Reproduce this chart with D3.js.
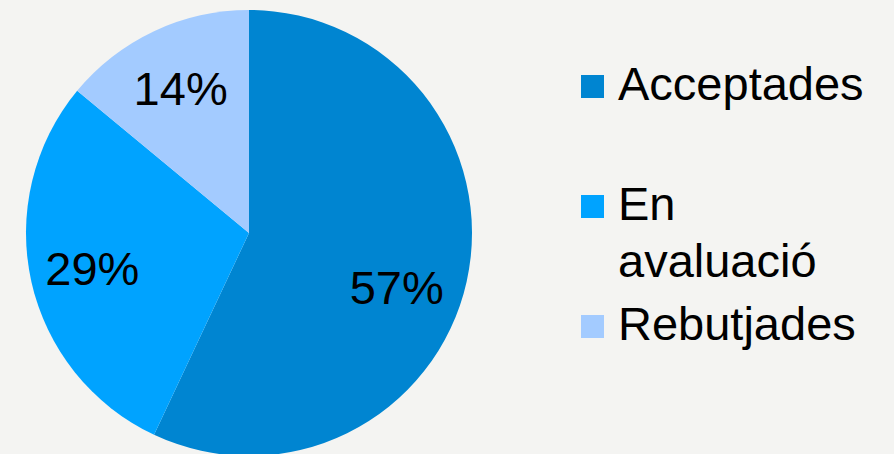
<!DOCTYPE html>
<html>
<head>
<meta charset="utf-8">
<script src="https://cdn.jsdelivr.net/npm/d3@7"></script>
<style>
  html, body { margin: 0; padding: 0; background: #f4f4f2; }
  svg { display: block; font-family: "Liberation Sans", Arial, sans-serif; }
</style>
</head>
<body>
<div id="chart"></div>
<script>
// Data
const categories = ["Acceptades", "En avaluació", "Rebutjades"];
const legendLines = [["Acceptades"], ["En", "avaluació"], ["Rebutjades"]];
const values = [57, 29, 14];
const colors = ["#0085d1", "#00a3ff", "#a3cbff"];

// Set dimensions
const width = 894, height = 454;
const cx = 249, cy = 233, radius = 223;

const svg = d3.select("#chart")
    .append("svg")
    .attr("width", width)
    .attr("height", height);

const data = categories.map((c, i) => ({name: c, value: values[i], color: colors[i], lines: legendLines[i]}));

const pie = d3.pie()
    .value(d => d.value)
    .sort(null);

const arc = d3.arc()
    .innerRadius(0)
    .outerRadius(radius);

const labelArc = d3.arc()
    .innerRadius(radius * 0.72)
    .outerRadius(radius * 0.72);

const g = svg.append("g")
    .attr("transform", `translate(${cx},${cy})`);

const arcs = pie(data);

g.selectAll("path.slice")
    .data(arcs)
    .enter()
    .append("path")
    .attr("class", "slice")
    .attr("d", arc)
    .attr("fill", d => d.data.color);

// Percent labels (small nudge for the big slice, like the original)
const nudge = [[-9, 19], [0, 0], [0, 0]];
const total = d3.sum(values);
g.selectAll("text.pct")
    .data(arcs)
    .enter()
    .append("text")
    .attr("class", "pct")
    .attr("x", (d, i) => labelArc.centroid(d)[0] + nudge[i][0])
    .attr("y", (d, i) => labelArc.centroid(d)[1] + nudge[i][1])
    .attr("dy", "0.36em")
    .attr("text-anchor", "middle")
    .style("font-size", "47px")
    .attr("fill", "#000")
    .text(d => Math.round(d.data.value / total * 100) + "%");

// Legend
const legendBaselines = [100, 220, 340];
const legendX = 581, sq = 23, lineH = 57;

const legend = svg.selectAll("g.legend")
    .data(data)
    .enter()
    .append("g")
    .attr("class", "legend");

legend.append("rect")
    .attr("x", legendX)
    .attr("y", (d, i) => legendBaselines[i] - sq - 2)
    .attr("width", sq)
    .attr("height", sq)
    .attr("fill", d => d.color);

legend.append("text")
    .attr("x", legendX + 37)
    .attr("y", (d, i) => legendBaselines[i])
    .style("font-size", "47px")
    .attr("fill", "#000")
    .selectAll("tspan")
    .data(d => d.lines)
    .enter()
    .append("tspan")
    .attr("x", legendX + 37)
    .attr("dy", (d, i) => i === 0 ? 0 : lineH)
    .text(d => d);
</script>
</body>
</html>
